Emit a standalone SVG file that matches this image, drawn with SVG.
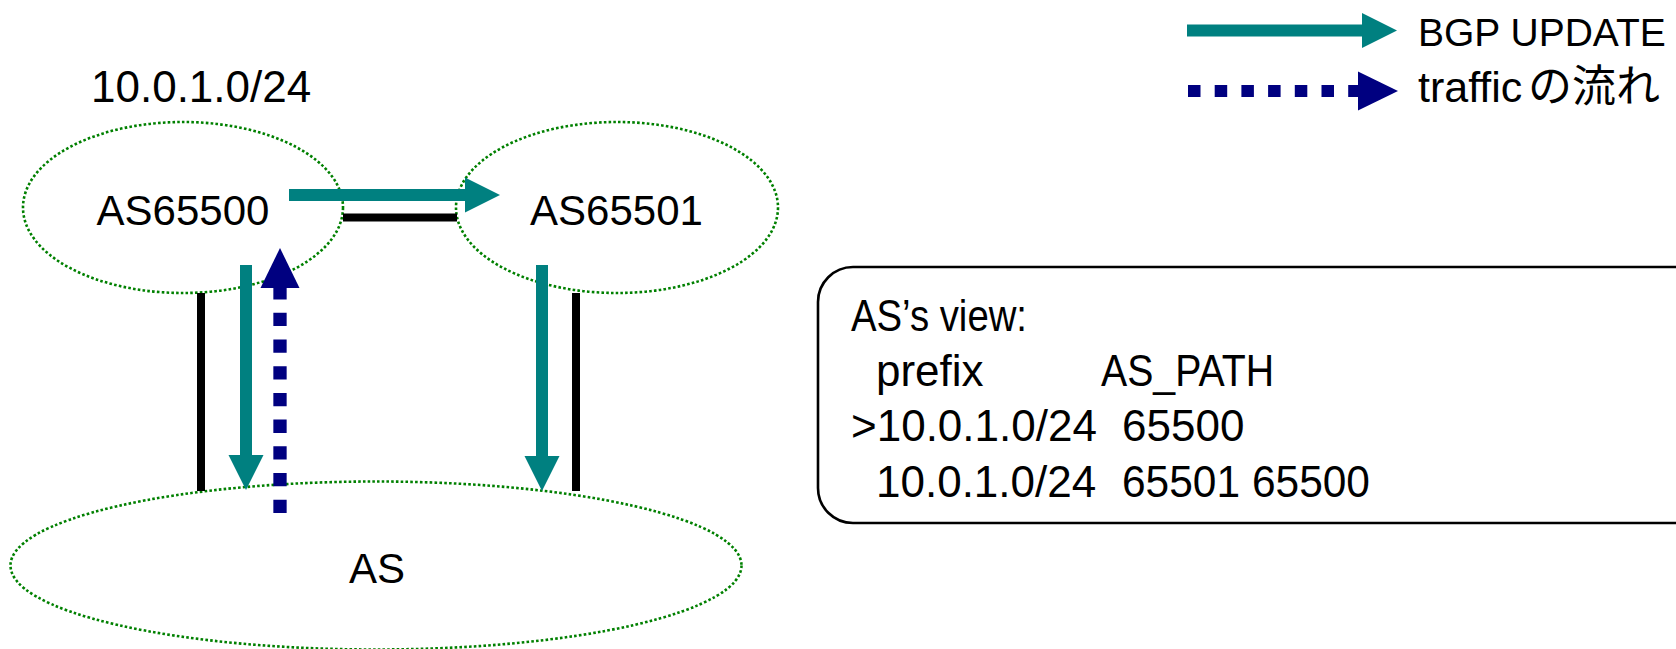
<svg xmlns="http://www.w3.org/2000/svg" width="1676" height="649" viewBox="0 0 1676 649">
  <style>
    .node { fill: none; stroke: #008000; stroke-width: 2.6; stroke-dasharray: 2.6 2.2; }
    .lbl { font-family: "Liberation Sans", "Noto Sans CJK JP", sans-serif; fill: #000; }
    .link { stroke: #000; stroke-width: 8; fill: none; }
    .upd { stroke: #008080; stroke-width: 12; fill: none; }
    .trf { stroke: #000080; stroke-width: 13.3; fill: none; stroke-dasharray: 13.3 13.4; }
    .box { fill: none; stroke: #000; stroke-width: 2.6; }
  </style>
  <defs>
    <marker id="headUpd" markerUnits="userSpaceOnUse" markerWidth="36" markerHeight="36" viewBox="0 0 35 36" refX="0" refY="18" orient="auto">
      <polygon points="0,0.5 35,18 0,35.5" fill="#008080"/>
    </marker>
    <marker id="headTrf" markerUnits="userSpaceOnUse" markerWidth="40" markerHeight="40" viewBox="0 0 40 40" refX="0" refY="20" orient="auto">
      <polygon points="0,0.5 40,20 0,39.5" fill="#000080"/>
    </marker>
  </defs>

  <g id="legend">
    <line class="upd" x1="1187" y1="30.5" x2="1362" y2="30.5" marker-end="url(#headUpd)"/>
    <text class="lbl" x="1418" y="46" font-size="39">BGP UPDATE</text>
    <line class="trf" x1="1188" y1="91" x2="1358" y2="91" style="stroke-width:12;stroke-dasharray:12.5 14.2" marker-end="url(#headTrf)"/>
    <text class="lbl" x="1418" y="102" font-size="43">traffic<tspan x="1528" font-size="44" font-family="Noto Sans CJK JP, sans-serif">の流れ</tspan></text>
  </g>

  <g id="prefix-label">
    <text class="lbl" x="91" y="102" font-size="44">10.0.1.0/24</text>
  </g>

  <g id="as65500">
    <ellipse class="node" cx="183" cy="207.5" rx="160" ry="85.5"/>
    <text class="lbl" x="183" y="225" font-size="42" text-anchor="middle">AS65500</text>
  </g>

  <g id="as65501">
    <ellipse class="node" cx="617" cy="207.5" rx="161" ry="85.5"/>
    <text class="lbl" x="616.5" y="225" font-size="42" text-anchor="middle">AS65501</text>
  </g>

  <g id="as">
    <ellipse class="node" cx="376" cy="565.5" rx="365.5" ry="84"/>
    <text class="lbl" x="377" y="583" font-size="42" text-anchor="middle">AS</text>
  </g>

  <g id="connectors">
    <line class="link" x1="343" y1="217.5" x2="457" y2="217.5"/>
    <line class="link" x1="201" y1="293" x2="201" y2="491"/>
    <line class="link" x1="576" y1="293" x2="576" y2="491"/>
    <line class="upd" x1="289" y1="195" x2="465" y2="195" marker-end="url(#headUpd)"/>
    <line class="upd" x1="246" y1="265" x2="246" y2="455" marker-end="url(#headUpd)"/>
    <line class="upd" x1="542" y1="265" x2="542" y2="456" marker-end="url(#headUpd)"/>
    <line class="trf" x1="280" y1="513" x2="280" y2="288" marker-end="url(#headTrf)"/>
  </g>

  <g id="view-box">
    <rect class="box" x="818" y="267" width="900" height="256" rx="35" ry="35"/>
    <text class="lbl" font-size="44" xml:space="preserve"><tspan x="851" y="331" textLength="176" lengthAdjust="spacingAndGlyphs">AS’s view:</tspan><tspan x="876" y="386">prefix</tspan><tspan x="1101" y="386" textLength="173" lengthAdjust="spacingAndGlyphs">AS_PATH</tspan><tspan x="851" y="441">&gt;10.0.1.0/24</tspan><tspan x="1122" y="441">65500</tspan><tspan x="876" y="497">10.0.1.0/24</tspan><tspan x="1122" y="497" textLength="248" lengthAdjust="spacingAndGlyphs">65501 65500</tspan></text>
  </g>
</svg>
